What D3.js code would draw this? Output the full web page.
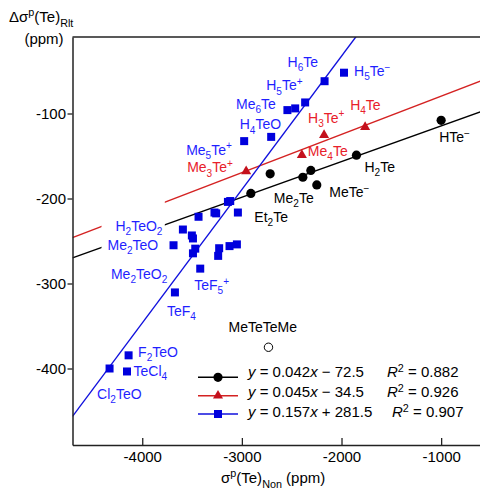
<!DOCTYPE html>
<html><head><meta charset="utf-8">
<script src="https://cdn.jsdelivr.net/npm/d3@7"></script>
<style>body{margin:0;background:#fff}svg{display:block;font-family:"Liberation Sans",Arial,Helvetica,sans-serif}</style>
</head><body><svg id="c" width="480" height="491"></svg>
<script>
// ---------- data ----------
const xTicks = [-4000, -3000, -2000, -1000];
const yTicks = [-100, -200, -300, -400];

// black circles
const blackX = [-1000, -1850, -2716, -2388, -2308, -2248, -2910];
const blackY = [-108, -149, -171, -175, -167, -184, -194];
const blackNames = ["HTe^−", "H_2Te", "", "Me_2Te", "", "MeTe^−", "Et_2Te"];

// red triangles
const redX = [-1763, -2175, -2398, -2957];
const redY = [-116, -125.5, -149, -168];
const redNames = ["H_4Te", "H_3Te^+", "Me_4Te", "Me_3Te^+"];

// blue squares
const blueX = [-2170, -1975, -2365, -2465, -2543, -2706, -2977,
  -3140, -3117, -3040, -3275, -3258, -3435, -3592, -3502, -3491, -3686,
  -3468, -3491, -3228, -3238, -3124, -3050, -3418, -3672, -4328, -4137, -4153];
const blueY = [-62, -52, -87, -94, -96, -127.5, -132.5,
  -204, -203, -216.5, -216.5, -217.5, -221.5, -236.5, -243.5, -247, -255,
  -259, -264.5, -258.5, -267.5, -256, -254, -282.5, -310.5, -400, -384.5, -403.5];
const blueNames = ["H_6Te", "H_5Te^−", "H_5Te^+", "", "Me_6Te", "H_4TeO", "Me_5Te^+",
  "", "", "", "", "", "", "H_2TeO_2", "", "", "Me_2TeO",
  "", "", "", "", "", "", "TeF_5^+", "TeF_4", "Cl_2TeO", "F_2TeO", "TeCl_4"];

// outlier (open circle)
const outX = [-2733];
const outY = [-375];
const outNames = ["MeTeTeMe"];

// extra label without own point (attached to blue point index)
const extraBlueLabel = ["Me_2TeO_2"];

// linear fits
const fitSlope = [0.042, 0.045, 0.157];
const fitIntercept = [-72.5, -34.5, 281.5];
const fitR2 = [0.882, 0.926, 0.907];

// ---------- layout / style ----------
const W = 480, H = 491;
const colBlack = "#000", colRed = "#d42222", colRedMark = "#c4101c", colBlue = "#1010dd", colBlueMark = "#0000dd";
const colRedText = "#e8202a", colBlueText = "#1f1fff";
const labelFS = 14;

// label offsets in px relative to their point: [dx, dy(baseline), anchor]
const blackOff = [[-2, 22, "start"], [8, 17, "start"], null, [-29, 25.5, "start"], null, [12.5, 12.5, "start"], [3.5, 28.5, "start"]];
const redOff = [[-15, -17, "start"], [-16, -12.5, "start"], [6, 0.5, "start"], [-59, 1, "start"]];
const blueOff = [[-37, -14, "start"], [10, 3.5, "start"], [-39, -12, "start"], null, [-11.5, -1.5, "end"], [10, -7.5, "end"], [-58, 13.5, "start"],
  null, null, null, null, null, null, [-67.5, 1.5, "start"], null, null, [-66, 5, "start"],
  null, null, null, null, null, null, [-6, 21.5, "start"], [-8, 23.5, "start"], [-12.5, 30.5, "start"], [9.5, 1.5, "start"], [6.5, 4.5, "start"]];
const outOff = [[-40, -15, "start"]];
const extraOff = [[23, [-89.3, 10, "start"]]];

const svg = d3.select("#c");
const x = d3.scaleLinear().domain([-4700, -600]).range([72.5, 481]);
const y = d3.scaleLinear().domain([-490, -10]).range([445, 37]);

// rich text helper: _c subscript, ^c superscript
function rich(sel, str, fs) {
  const segs = [];
  for (let i = 0; i < str.length; i++) {
    const ch = str[i];
    if ((ch === "_" || ch === "^") && i + 1 < str.length) {
      segs.push({ t: str[i + 1], m: ch === "_" ? "sub" : "sup" });
      i++;
    } else {
      if (segs.length && segs[segs.length - 1].m === "n") segs[segs.length - 1].t += ch;
      else segs.push({ t: ch, m: "n" });
    }
  }
  let cur = 0;
  segs.forEach(s => {
    const o = s.m === "sub" ? 0.3 * fs : s.m === "sup" ? -0.38 * fs : 0;
    sel.append("tspan").attr("dy", o - cur)
      .attr("font-size", s.m === "n" ? fs : fs * 0.72).text(s.t);
    cur = o;
  });
  return sel;
}

// clip
svg.append("defs").append("clipPath").attr("id", "plotclip").append("rect")
  .attr("x", x.range()[0]).attr("y", y.range()[1])
  .attr("width", x.range()[1] - x.range()[0]).attr("height", y.range()[0] - y.range()[1]);

// fit lines
const fitCols = [colBlack, colRed, colBlue];
const lines = svg.append("g").attr("clip-path", "url(#plotclip)");
fitSlope.forEach((m, i) => {
  const [x0, x1] = x.domain();
  lines.append("line")
    .attr("x1", x(x0)).attr("y1", y(m * x0 + fitIntercept[i]))
    .attr("x2", x(x1)).attr("y2", y(m * x1 + fitIntercept[i]))
    .attr("stroke", fitCols[i]).attr("stroke-width", 1.4);
});

// labels layer (measured first for white background)
const labelsG = svg.append("g");
const bgG = svg.insert("g", "g:last-child");
function addLabel(px, py, off, name, col) {
  const t = labelsG.append("text").attr("x", px + off[0]).attr("y", py + off[1])
    .attr("text-anchor", off[2]).attr("fill", col).attr("font-size", labelFS);
  rich(t, name, labelFS);
  return t;
}

// points
const pts = svg.append("g");
blackX.forEach((v, i) => {
  pts.append("circle").attr("cx", x(v)).attr("cy", y(blackY[i])).attr("r", 4.6).attr("fill", colBlack);
  if (blackNames[i]) addLabel(x(v), y(blackY[i]), blackOff[i], blackNames[i], colBlack);
});
const tri = d3.symbol().type(d3.symbolTriangle).size(44);
redX.forEach((v, i) => {
  pts.append("path").attr("d", tri).attr("transform", `translate(${x(v)},${y(redY[i])})`).attr("fill", colRedMark);
  addLabel(x(v), y(redY[i]), redOff[i], redNames[i], colRedText);
});
const bgLabels = [];
blueX.forEach((v, i) => {
  const s = 8;
  pts.append("rect").attr("x", x(v) - s / 2).attr("y", y(blueY[i]) - s / 2).attr("width", s).attr("height", s).attr("fill", colBlueMark);
  if (blueNames[i]) {
    const t = addLabel(x(v), y(blueY[i]), blueOff[i], blueNames[i], colBlueText);
    if (blueNames[i] === "H_2TeO_2" || blueNames[i] === "Me_2TeO") bgLabels.push(t);
  }
});
extraOff.forEach((e, k) => {
  const i = e[0];
  addLabel(x(blueX[i]), y(blueY[i]), e[1], extraBlueLabel[k], colBlueText);
});
outX.forEach((v, i) => {
  pts.append("circle").attr("cx", x(v)).attr("cy", y(outY[i])).attr("r", 4.2)
    .attr("fill", "#fff").attr("stroke", "#000").attr("stroke-width", 1);
  addLabel(x(v), y(outY[i]), outOff[i], outNames[i], colBlack);
});

// white box behind the two labels that interrupt the fit lines
{
  let x0 = Infinity, x1 = -Infinity, y0 = Infinity, y1 = -Infinity;
  bgLabels.forEach(t => { const b = t.node().getBBox(); x0 = Math.min(x0, b.x); x1 = Math.max(x1, b.x + b.width); y0 = Math.min(y0, b.y); y1 = Math.max(y1, b.y + b.height); });
  svg.insert("rect", "g:nth-of-type(2)")
    .attr("x", x0 - 6).attr("y", y0 - 20).attr("width", x1 - x0 + 8).attr("height", y1 - y0 + 22)
    .attr("fill", "#fff");
  // raise so it sits over the lines but under the labels/points
  svg.node().insertBefore(svg.select("rect[fill='#fff']").node(), labelsG.node());
}

// axes
const axB = svg.append("g").attr("transform", `translate(0,${y.range()[0]})`)
  .call(d3.axisBottom(x).tickValues(xTicks).tickSizeInner(-7).tickSizeOuter(0).tickPadding(6.5).tickFormat(d => String(d)));
const axL = svg.append("g").attr("transform", `translate(${x.range()[0]},0)`)
  .call(d3.axisLeft(y).tickValues(yTicks).tickSizeInner(5).tickSizeOuter(0).tickPadding(1.5).tickFormat(d => String(d)));
[axB, axL].forEach(a => {
  a.select(".domain").attr("stroke", "#222").attr("stroke-width", 1.5);
  a.selectAll(".tick line").attr("stroke", "#222").attr("stroke-width", 1.3);
  a.selectAll(".tick text").attr("font-size", 15).attr("fill", "#000").attr("font-family", "Liberation Sans, Arial, sans-serif");
});
svg.append("line").attr("x1", x.range()[0]).attr("x2", x.range()[1]).attr("y1", y.range()[1]).attr("y2", y.range()[1])
  .attr("stroke", "#222").attr("stroke-width", 1.5);

// axis titles
const yt = svg.append("text").attr("x", 9).attr("y", 22).attr("font-size", 15);
rich(yt, "Δσ^p(Te)", 15);
yt.append("tspan").attr("dy", 0.3 * 15 + 0.38 * 15 * 0).attr("font-size", 15 * 0.72).text("Rlt");
svg.append("text").attr("x", 44).attr("y", 44).attr("text-anchor", "middle").attr("font-size", 15).text("(ppm)");

const xt = svg.append("text").attr("x", 221).attr("y", 483).attr("font-size", 15);
xt.append("tspan").text("σ");
xt.append("tspan").attr("dy", -0.38 * 15).attr("font-size", 15 * 0.72).text("p");
xt.append("tspan").attr("dy", 0.38 * 15).text("(Te)");
xt.append("tspan").attr("dy", 0.3 * 15).attr("font-size", 15 * 0.72).text("Non");
xt.append("tspan").attr("dy", -0.3 * 15).text(" (ppm)");

// legend
const legLineY = [377.3, 395.7, 414];
const legTextY = [377.3, 397.3, 417.3];
const legR2X = [387, 387, 392];
const legMarkCols = [colBlack, colRedMark, colBlueMark];
const fmtNum = d3.format(".3~f");
fitSlope.forEach((m, i) => {
  const ly = legLineY[i];
  svg.append("line").attr("x1", 198).attr("x2", 238).attr("y1", ly).attr("y2", ly)
    .attr("stroke", fitCols[i]).attr("stroke-width", 1.4);
  if (i === 0) svg.append("circle").attr("cx", 218).attr("cy", ly).attr("r", 4.6).attr("fill", legMarkCols[i]);
  if (i === 1) svg.append("path").attr("d", tri).attr("transform", `translate(218,${ly})`).attr("fill", legMarkCols[i]);
  if (i === 2) svg.append("rect").attr("x", 214).attr("y", ly - 4).attr("width", 8).attr("height", 8).attr("fill", legMarkCols[i]);
  const t = svg.append("text").attr("x", 248).attr("y", legTextY[i]).attr("font-size", 15).attr("fill", "#000");
  t.append("tspan").attr("font-style", "italic").text("y");
  t.append("tspan").text(" = " + fmtNum(m));
  t.append("tspan").attr("font-style", "italic").text("x");
  const b = fitIntercept[i];
  t.append("tspan").text((b < 0 ? " \u2212 " : " + ") + d3.format(".1f")(Math.abs(b)));
  const r = svg.append("text").attr("x", legR2X[i]).attr("y", legTextY[i]).attr("font-size", 15).attr("fill", "#000");
  r.append("tspan").attr("font-style", "italic").text("R");
  r.append("tspan").attr("dy", -0.38 * 15).attr("font-size", 15 * 0.72).text("2");
  r.append("tspan").attr("dy", 0.38 * 15).text(" = " + d3.format(".3f")(fitR2[i]));
});
</script>
</body></html>
